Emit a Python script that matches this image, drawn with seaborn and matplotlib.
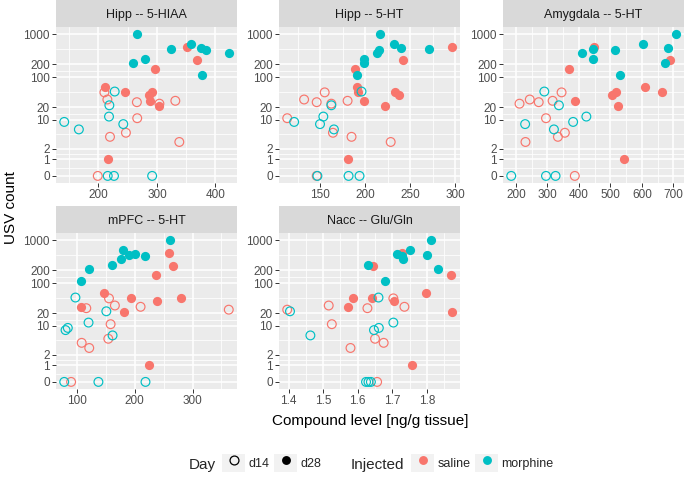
import numpy as np
import pandas as pd
import seaborn as sns
import matplotlib.pyplot as plt
from matplotlib.patches import Rectangle
from matplotlib.lines import Line2D
from matplotlib.legend_handler import HandlerTuple

panels = ["Hipp -- 5-HIAA", "Hipp -- 5-HT", "Amygdala -- 5-HT", "mPFC -- 5-HT", "Nacc -- Glu/Gln"]

# USV counts per animal group (same animals in every panel)
usv_saline_d28 = [490, 255, 152, 58, 46, 45, 39, 28, 21, 1]
usv_saline_d14 = [44, 30, 28, 26, 24, 11, 5, 4, 3, 0]
usv_morphine_d28 = [1000, 600, 470, 450, 425, 370, 270, 210, 112]
usv_morphine_d14 = [46, 22, 12, 9, 8, 6, 0, 0, 0]

# compound level per panel, same order as the usv lists
level_saline_d28 = [
    [351.8, 368.8, 296.3, 211.3, 245.3, 292.4, 286.7, 288.4, 303.7, 216.4],
    [296.3, 242.4, 188.8, 190.6, 191.7, 232.7, 237.2, 198.8, 222.4, 181.0],
    [447.9, 688.4, 369.1, 609.7, 518.3, 663.2, 505.7, 388.0, 523.5, 542.4],
    [259.0, 266.4, 236.8, 147.3, 194.0, 280.0, 238.5, 106.8, 182.1, 224.8],
    [1.728, 1.643, 1.869, 1.797, 1.587, 1.641, 1.704, 1.571, 1.872, 1.757],
]
level_saline_d14 = [
    [210.2, 215.3, 331.4, 265.7, 304.2, 266.3, 247.0, 219.8, 338.2, 198.9],
    [154.8, 131.9, 180.3, 145.9, 162.2, 113.1, 164.0, 184.7, 228.3, 145.9],
    [345.0, 244.1, 316.6, 272.5, 211.6, 295.6, 355.5, 333.4, 230.5, 387.0],
    [155.3, 165.5, 210.0, 116.0, 362.7, 158.1, 154.1, 108.0, 121.1, 89.7],
    [1.703, 1.516, 1.735, 1.628, 1.396, 1.525, 1.650, 1.675, 1.579, 1.656],
]
level_morphine_d28 = [
    [265.2, 358.0, 375.6, 324.0, 383.6, 422.7, 279.3, 258.4, 376.8],
    [216.9, 231.6, 239.4, 270.8, 215.0, 213.2, 198.8, 198.4, 190.6],
    [707.4, 604.4, 684.2, 445.8, 513.0, 409.0, 444.7, 674.8, 532.0],
    [260.1, 179.8, 200.9, 190.0, 218.0, 175.8, 159.8, 119.9, 106.8],
    [1.812, 1.750, 1.713, 1.801, 1.728, 1.731, 1.631, 1.831, 1.678],
]
level_morphine_d14 = [
    [227.8, 218.7, 218.1, 141.6, 242.5, 166.6, 215.9, 226.6, 291.8],
    [195.8, 162.2, 153.3, 120.8, 149.6, 165.1, 146.7, 181.4, 193.6],
    [290.3, 336.6, 423.7, 381.7, 229.4, 320.8, 185.3, 295.6, 326.0],
    [97.2, 150.7, 119.9, 84.0, 80.1, 161.5, 77.8, 137.0, 218.5],
    [1.660, 1.404, 1.703, 1.661, 1.647, 1.463, 1.624, 1.631, 1.638],
]

x_breaks = [
    [200, 300, 400],
    [150, 200, 250, 300],
    [200, 300, 400, 500, 600, 700],
    [100, 200, 300],
    [1.4, 1.5, 1.6, 1.7, 1.8],
]
y_breaks = [0, 1, 2, 10, 20, 100, 200, 1000]

colors = {"saline": "#F8766D", "morphine": "#00BFC4"}

rows = []
groups = [
    ("saline", "d28", usv_saline_d28, level_saline_d28),
    ("saline", "d14", usv_saline_d14, level_saline_d14),
    ("morphine", "d28", usv_morphine_d28, level_morphine_d28),
    ("morphine", "d14", usv_morphine_d14, level_morphine_d14),
]
for inj, day, usv, levels in groups:
    for p, panel in enumerate(panels):
        for lv, u in zip(levels[p], usv):
            rows.append({"panel": panel, "level": lv, "usv": u, "Day": day, "Injected": inj})
df = pd.DataFrame(rows)

sns.set_theme(style="darkgrid", rc={"axes.facecolor": "#EBEBEB", "grid.color": "white"})
plt.rcParams["font.family"] = ["Liberation Sans", "DejaVu Sans"]


def fwd(y):
    return np.arcsinh(y) / np.log(10)


def inv(t):
    return np.sinh(t * np.log(10))


W, H = 685, 483
fig = plt.figure(figsize=(W / 100, H / 100), dpi=100)

col_left = [56, 279, 503]
row_top = [27, 233]
pw, ph, strip_h = 181, 156, 27

t_lo, t_hi = fwd(df.usv.min()), fwd(df.usv.max())
pad = 0.05 * (t_hi - t_lo)
y_lim = (inv(t_lo - pad), inv(t_hi + pad))
t_br = fwd(np.array(y_breaks, dtype=float))
y_minor = inv((t_br[:-1] + t_br[1:]) / 2)

for i, panel in enumerate(panels):
    r, c = divmod(i, 3)
    left, top = col_left[c], row_top[r]
    ax = fig.add_axes([left / W, 1 - (top + ph) / H, pw / W, ph / H])
    sub = df[df.panel == panel]
    for inj in ["saline", "morphine"]:
        d28 = sub[(sub.Injected == inj) & (sub.Day == "d28")]
        sns.scatterplot(data=d28, x="level", y="usv", color=colors[inj], s=44,
                        linewidth=0, ax=ax, legend=False)
        d14 = sub[(sub.Injected == inj) & (sub.Day == "d14")]
        sns.scatterplot(data=d14, x="level", y="usv", color=colors[inj], s=40,
                        linewidth=0, ax=ax, legend=False)
        coll = ax.collections[-1]
        coll.set_facecolor("none")
        coll.set_edgecolor(colors[inj])
        coll.set_linewidth(0.85)

    ax.set_yscale("function", functions=(fwd, inv))
    ax.set_ylim(*y_lim)
    ax.set_yticks(y_breaks)
    ax.set_yticklabels([str(v) for v in y_breaks])
    ax.set_yticks(y_minor, minor=True)

    xb = x_breaks[i]
    lo, hi = sub.level.min(), sub.level.max()
    xpad = 0.05 * (hi - lo)
    ax.set_xlim(lo - xpad, hi + xpad)
    step = xb[1] - xb[0]
    ext = [xb[0] - step] + list(xb) + [xb[-1] + step]
    x_minor = [(a + b) / 2 for a, b in zip(ext[:-1], ext[1:])]
    x_minor = [m for m in x_minor if lo - xpad <= m <= hi + xpad]
    ax.set_xticks(xb)
    if isinstance(xb[0], float):
        ax.set_xticklabels([f"{v:.1f}" for v in xb])
    else:
        ax.set_xticklabels([str(v) for v in xb])
    ax.set_xticks(x_minor, minor=True)

    ax.grid(which="major", color="white", linewidth=1.1)
    ax.grid(which="minor", color="white", linewidth=0.55)
    ax.set_axisbelow(True)
    ax.tick_params(which="major", bottom=True, left=True, length=3, width=0.7,
                   color="#333333", labelsize=8.5, labelcolor="#4D4D4D", pad=1.5)
    ax.tick_params(which="minor", bottom=False, left=False, length=0)
    for s in ax.spines.values():
        s.set_visible(False)
    ax.set_xlabel("")
    ax.set_ylabel("")

    fig.add_artist(Rectangle((left / W, 1 - top / H), pw / W, strip_h / H,
                             transform=fig.transFigure, fc="#D9D9D9", ec="none"))
    fig.text((left + pw / 2) / W, 1 - (top - strip_h / 2) / H, panel,
             ha="center", va="center_baseline", fontsize=9, color="#1A1A1A")

fig.text(370 / W, 1 - 425 / H, "Compound level [ng/g tissue]", ha="center",
         va="baseline", fontsize=11, color="black")
fig.text(11 / W, 1 - 207.5 / H, "USV count", rotation=90, ha="center",
         va="center", fontsize=11, color="black")

# legends
leg_y = 1 - 463 / H


def key(marker_kw):
    bg = Rectangle((0, 0), 1, 1, fc="#F2F2F2", ec="none")
    mk = Line2D([], [], ls="none", marker="o", ms=6.4, **marker_kw)
    return (bg, mk)


leg_kw = dict(loc="center left", frameon=False, fontsize=9, handlelength=1.85,
              handleheight=1.85, handletextpad=0.25, columnspacing=0.4,
              borderpad=0, borderaxespad=0, numpoints=1,
              handler_map={tuple: HandlerTuple(ndivide=1)})

day_handles = [key(dict(mfc="none", mec="black", mew=0.9)),
               key(dict(mfc="black", mec="black", mew=0))]
fig.legend(day_handles, ["d14", "d28"], ncol=2,
           bbox_to_anchor=(222 / W, leg_y), **leg_kw)
inj_handles = [key(dict(mfc=colors["saline"], mec=colors["saline"], mew=0)),
               key(dict(mfc=colors["morphine"], mec=colors["morphine"], mew=0))]
fig.legend(inj_handles, ["saline", "morphine"], ncol=2,
           bbox_to_anchor=(411 / W, leg_y), **leg_kw)

fig.text(189 / W, leg_y, "Day", ha="left", va="center_baseline", fontsize=11)
fig.text(351 / W, leg_y, "Injected", ha="left", va="center_baseline", fontsize=11)

fig.savefig("out.png", dpi=100)
